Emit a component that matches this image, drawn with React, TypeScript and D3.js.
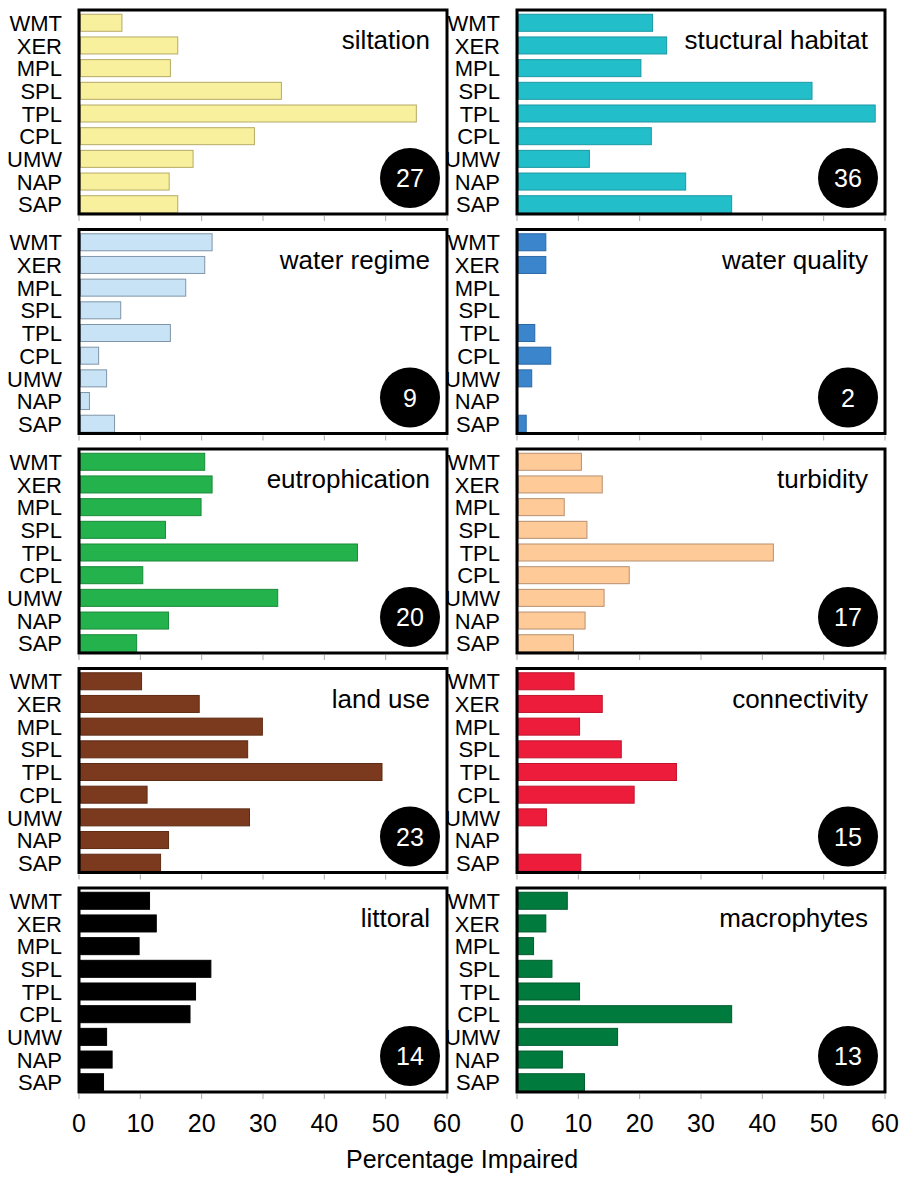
import * as d3 from "d3";

// categories (lake ecoregions), top to bottom
const CATEGORIES = ["WMT", "XER", "MPL", "SPL", "TPL", "CPL", "UMW", "NAP", "SAP"];
const X_TICKS = [0, 10, 20, 30, 40, 50, 60];

// percentage impaired per stressor, in CATEGORIES order
const siltation = [7.0, 16.1, 14.9, 33.0, 55.0, 28.6, 18.6, 14.7, 16.1];
const structuralHabitat = [22.1, 24.4, 20.2, 48.1, 58.4, 21.9, 11.8, 27.5, 35.0];
const waterRegime = [21.7, 20.5, 17.4, 6.8, 14.9, 3.2, 4.5, 1.7, 5.8];
const waterQuality = [4.7, 4.7, 0, 0, 2.9, 5.5, 2.4, 0, 1.5];
const eutrophication = [20.5, 21.7, 19.9, 14.1, 45.4, 10.4, 32.4, 14.6, 9.4];
const turbidity = [10.5, 13.9, 7.7, 11.4, 41.8, 18.3, 14.2, 11.1, 9.2];
const landUse = [10.2, 19.6, 29.9, 27.5, 49.4, 11.1, 27.8, 14.6, 13.3];
const connectivity = [9.3, 13.9, 10.2, 17.0, 26.0, 19.1, 4.8, 0, 10.4];
const littoral = [11.5, 12.6, 9.8, 21.5, 19.0, 18.1, 4.5, 5.4, 4.0];
const macrophytes = [8.2, 4.7, 2.7, 5.7, 10.2, 35.0, 16.4, 7.4, 11.0];

const PANEL_TITLES = [
  "siltation", "stuctural habitat", "water regime", "water quality", "eutrophication",
  "turbidity", "land use", "connectivity", "littoral", "macrophytes",
];
const PANEL_COUNTS = [27, 36, 9, 2, 20, 17, 23, 15, 14, 13];
const PANEL_VALUES = [
  siltation, structuralHabitat, waterRegime, waterQuality, eutrophication,
  turbidity, landUse, connectivity, littoral, macrophytes,
];
const PANEL_FILLS = ["#f8f09c", "#22bfcb", "#c8e3f6", "#3a85cc", "#23b24b", "#fdca98", "#7b3a1e", "#ec1c3a", "#000000", "#007a3d"];
const PANEL_STROKES = ["#b5ab66", "#1b98a3", "#8095a8", "#2c6aa6", "#1b8a3a", "#b89070", "#5e2b14", "#c0142d", "#000000", "#005c2e"];

const W = 917;
const H = 1184;
const FONT = "'Liberation Sans', Arial, Helvetica, sans-serif";
const COL_X = [79, 517];
const PANEL_W = 368;
const ROW_TOP = 10;
const ROW_STEP = 219.5;
const PANEL_H = 204;

function Panel({ idx }: { idx: number }) {
  const col = idx % 2;
  const row = Math.floor(idx / 2);
  const x0 = COL_X[col];
  const y0 = ROW_TOP + row * ROW_STEP;
  const values = PANEL_VALUES[idx];

  const x = d3.scaleLinear().domain([0, 60]).range([x0, x0 + PANEL_W]);
  const y = d3.scaleBand<string>()
    .domain(CATEGORIES)
    .range([y0 + 2, y0 + PANEL_H + 1])
    .paddingInner(0.25)
    .paddingOuter(0.1);

  const right = x0 + PANEL_W;
  const cx = right - 37;
  const cy = y0 + 168;

  return (
    <g>
      {/* category labels */}
      {CATEGORIES.map((c) => (
        <text
          key={c}
          x={x0 - 17}
          y={(y(c) ?? 0) + y.bandwidth() / 2}
          dy="0.37em"
          textAnchor="end"
          fontSize={22}
          fill="#000"
        >
          {c}
        </text>
      ))}

      {/* bars */}
      {values.map((v, i) =>
        v > 0 ? (
          <rect
            key={i}
            x={x(0) + 1.5}
            y={y(CATEGORIES[i])}
            width={Math.max(0, x(v) - x(0) - 1.5)}
            height={y.bandwidth()}
            fill={PANEL_FILLS[idx]}
            stroke={PANEL_STROKES[idx]}
            strokeWidth={1}
          />
        ) : null
      )}

      {/* frame */}
      <rect x={x0} y={y0} width={PANEL_W} height={PANEL_H} fill="none" stroke="#000" strokeWidth={3} />

      {/* small ticks under the frame */}
      {X_TICKS.map((t) => (
        <line key={t} x1={x(t)} x2={x(t)} y1={y0 + PANEL_H + 2} y2={y0 + PANEL_H + 7} stroke="#aaa" strokeWidth={1} />
      ))}

      <text x={right - 17} y={y0 + 39} textAnchor="end" fontSize={26} fill="#000">
        {PANEL_TITLES[idx]}
      </text>

      <circle cx={cx} cy={cy} r={30} fill="#000" />
      <text x={cx} y={cy + 9} textAnchor="middle" fontSize={25} fill="#fff">
        {PANEL_COUNTS[idx]}
      </text>
    </g>
  );
}

export default function App() {
  const x = d3.scaleLinear().domain([0, 60]).range([0, PANEL_W]);
  const axisY = ROW_TOP + 4 * ROW_STEP + PANEL_H + 40;

  return (
    <svg
      width={W}
      height={H}
      viewBox={`0 0 ${W} ${H}`}
      style={{ position: "absolute", left: 0, top: 0, background: "#fff" }}
      fontFamily={FONT}
    >
      <rect width={W} height={H} fill="#fff" />
      {PANEL_TITLES.map((_, i) => (
        <Panel key={i} idx={i} />
      ))}

      {/* x tick labels under the bottom row */}
      {COL_X.map((cx0) =>
        X_TICKS.map((t) => (
          <text key={`${cx0}-${t}`} x={cx0 + x(t)} y={axisY} textAnchor="middle" fontSize={25} fill="#000">
            {t}
          </text>
        ))
      )}

      <text x={462} y={1168} textAnchor="middle" fontSize={25} fill="#000">
        Percentage Impaired
      </text>
    </svg>
  );
}
